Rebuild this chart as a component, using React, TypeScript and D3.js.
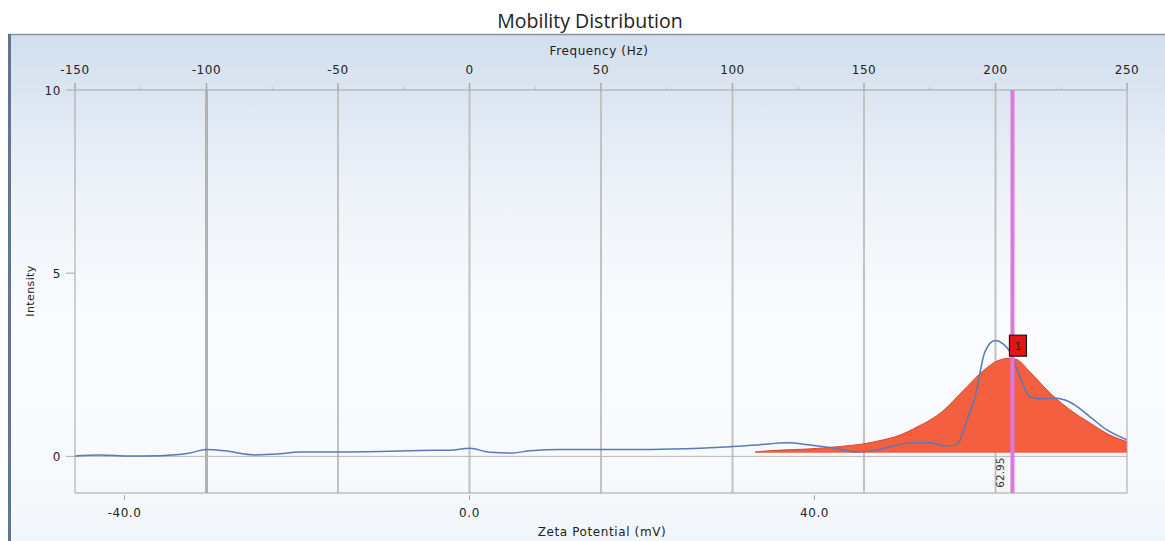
import React from 'react';
import * as d3 from 'd3';

const W = 1165;
const H = 541;

// Axis ticks
const freqTicks = [-150, -100, -50, 0, 50, 100, 150, 200, 250];
const freqMinorTicks = [-125, -75, -25, 25, 75, 125, 175, 225];
const zetaTicks = [-40, 0, 40];
const intensityTicks = [0, 5, 10];

// Domains
const zetaDomain = [-45.74, 76.23];
const freqDomain = [-150, 250];
const intensityDomain = [-1, 10];

// Measured mobility distribution (blue line): zeta potential (mV) vs intensity
const blueZeta = [
  -45.74, -42.84, -39.36, -35.88, -32.41, -30.55, -28.35, -24.87, -21.97, -19.65,
  -15.01, -10.38, -5.74, -2.26, 0.06, 2.38, 4.7, 7.01, 10.49, 15.13,
  20.93, 26.72, 30.2, 33.68, 36.81, 39.48, 42.14, 44.93, 46.78, 48.75,
  51.42, 53.39, 55.13, 56.29, 56.87, 57.68, 58.61, 59.77, 60.93, 61.86,
  62.67, 63.25, 63.83, 64.99, 66.38, 67.65, 69.04, 70.2, 71.94, 73.91, 76.23,
];
const blueIntensity = [
  0.01, 0.04, 0.01, 0.02, 0.09, 0.19, 0.15, 0.04, 0.07, 0.12,
  0.12, 0.13, 0.16, 0.17, 0.22, 0.11, 0.09, 0.15, 0.19, 0.19,
  0.19, 0.22, 0.26, 0.32, 0.37, 0.31, 0.23, 0.12, 0.15, 0.26,
  0.37, 0.37, 0.28, 0.3, 0.45, 0.99, 1.62, 2.86, 3.16, 3.07,
  2.85, 2.5, 2.17, 1.62, 1.57, 1.59, 1.54, 1.4, 1.08, 0.72, 0.45,
];

// Fitted peak (red area)
const redZeta = [
  33.1, 35.19, 39.13, 42.96, 45.62, 47.94, 49.91, 51.88, 53.39, 54.9,
  57.22, 59.54, 61.16, 62.67, 63.48, 64.99, 67.3, 69.62, 71.94, 74.26, 76.23,
];
const redIntensity = [
  0.12, 0.16, 0.2, 0.27, 0.34, 0.45, 0.58, 0.8, 0.99, 1.24,
  1.79, 2.33, 2.6, 2.68, 2.64, 2.3, 1.73, 1.27, 0.91, 0.58, 0.4,
];
const redBase = 0.1;

const peakZeta = 62.95;
const peakLabel = '1';
const peakText = '62.95';

const TICK_FONT = '"DejaVu Sans", Verdana, sans-serif';

export default function App() {
  const left = 75, right = 1127, top = 90, bottom = 493;
  const x = d3.scaleLinear().domain(zetaDomain).range([left, right]);
  const xf = d3.scaleLinear().domain(freqDomain).range([left, right]);
  const y = d3.scaleLinear().domain(intensityDomain).range([bottom, top]);

  const blueData = blueZeta.map((z, i) => [z, blueIntensity[i]] as [number, number]);
  const redData = redZeta.map((z, i) => [z, redIntensity[i]] as [number, number]);

  const line = d3.line<[number, number]>()
    .x(d => x(d[0])).y(d => y(d[1])).curve(d3.curveMonotoneX);
  const area = d3.area<[number, number]>()
    .x(d => x(d[0])).y0(() => y(redBase)).y1(d => y(d[1])).curve(d3.curveMonotoneX);
  const redTop = d3.line<[number, number]>()
    .x(d => x(d[0])).y(d => y(d[1])).curve(d3.curveMonotoneX);

  const px = x(peakZeta);
  const peakY = y(d3.max(redIntensity) as number);

  const tickText = { fontFamily: TICK_FONT, fontSize: 12, fill: '#222', letterSpacing: 0.6 } as const;

  return (
    <svg width={W} height={H} style={{ position: 'absolute', left: 0, top: 0 }}>
      <defs>
        <linearGradient id="panelBg" x1="0" y1="0" x2="0" y2="1">
          <stop offset="0" stopColor="#d2deee" />
          <stop offset="0.3" stopColor="#eef3f9" />
          <stop offset="0.55" stopColor="#fbfcfe" />
          <stop offset="0.85" stopColor="#f6f9fc" />
          <stop offset="1" stopColor="#edf4fa" />
        </linearGradient>
      </defs>
      <rect x={0} y={0} width={W} height={H} fill="#ffffff" />
      <text x={590} y={28} textAnchor="middle" fontFamily='"Open Sans", sans-serif' fontSize={19.5} fill="#222">
        Mobility Distribution
      </text>
      {/* panel */}
      <rect x={9} y={34} width={W} height={H} fill="url(#panelBg)" />
      <line x1={8} x2={W} y1={34.5} y2={34.5} stroke="#8995a2" strokeWidth={1.5} />
      <line x1={9.5} x2={9.5} y1={34} y2={H} stroke="#61768c" strokeWidth={3} />

      {/* gridlines at frequency ticks */}
      {freqTicks.filter(t => t > freqDomain[0] && t < freqDomain[1]).map(t => (
        <line key={'g' + t} x1={xf(t)} x2={xf(t)} y1={top} y2={bottom}
          stroke={t === -100 ? '#b2b2b2' : '#c2c2c2'} strokeWidth={t === -100 ? 3 : 2} />
      ))}
      {/* zero line */}
      <line x1={left} x2={right} y1={y(0)} y2={y(0)} stroke="#b4b4b4" strokeWidth={1} />

      {/* red fitted area */}
      <path d={area(redData) || ''} fill="#f4603f" />
      <path d={redTop(redData) || ''} fill="none" stroke="#cf4a2f" strokeWidth={1} />

      {/* blue measured line */}
      <path d={line(blueData) || ''} fill="none" stroke="#5a78b8" strokeWidth={1.5} />

      {/* plot frame */}
      <line x1={left} x2={right} y1={top} y2={top} stroke="#a3a3a3" strokeWidth={1} />
      <line x1={left} x2={right} y1={bottom} y2={bottom} stroke="#a3a3a3" strokeWidth={1} />
      <line x1={left} x2={left} y1={top} y2={bottom} stroke="#a3a3a3" strokeWidth={1} />
      <line x1={right} x2={right} y1={top} y2={bottom} stroke="#a3a3a3" strokeWidth={1} />

      {/* peak label box under axis */}
      <rect x={px - 19} y={y(0) + 1} width={15} height={bottom - y(0) - 2} fill="#f4f4f4" />
      <line x1={xf(200)} x2={xf(200)} y1={y(0)} y2={bottom} stroke="#b8b8b8" strokeWidth={1.5} />
      <text transform={`translate(${px - 8},${(y(0) + bottom) / 2 - 2}) rotate(-90)`}
        textAnchor="middle" fontFamily={TICK_FONT} fontSize={10.5} fill="#333">{peakText}</text>

      {/* magenta marker line */}
      <line x1={px} x2={px} y1={top} y2={bottom} stroke="#dd78e0" strokeWidth={4} />

      {/* peak number box */}
      <rect x={px - 3} y={peakY - 23} width={17} height={21} fill="#e41414" stroke="#1a1a1a" strokeWidth={1.2} />
      <text x={px + 5.5} y={peakY - 8.5} textAnchor="middle" fontFamily={TICK_FONT} fontSize={11} fill="#222">{peakLabel}</text>

      {/* top axis (frequency) */}
      {freqTicks.map(t => (
        <g key={'ft' + t}>
          <line x1={xf(t)} x2={xf(t)} y1={top} y2={top - 7} stroke="#a8a8a8" strokeWidth={1.5} />
          <text x={xf(t)} y={74} textAnchor="middle" {...tickText}>{t}</text>
        </g>
      ))}
      {freqMinorTicks.map(t => (
        <line key={'fm' + t} x1={xf(t)} x2={xf(t)} y1={top} y2={top - 3} stroke="#b8b8b8" strokeWidth={1} />
      ))}
      <text x={599} y={55} textAnchor="middle" {...tickText}>Frequency (Hz)</text>

      {/* bottom axis (zeta) */}
      {zetaTicks.map(t => (
        <g key={'zt' + t}>
          <line x1={x(t)} x2={x(t)} y1={bottom + 2} y2={bottom + 7} stroke="#a8a8a8" strokeWidth={1} />
          <text x={x(t)} y={517} textAnchor="middle" {...tickText}>{t.toFixed(1)}</text>
        </g>
      ))}
      <text x={602} y={536} textAnchor="middle" {...tickText}>Zeta Potential (mV)</text>

      {/* left axis (intensity) */}
      {intensityTicks.map(t => (
        <g key={'it' + t}>
          <line x1={left - 9} x2={left} y1={y(t)} y2={y(t)} stroke="#a8a8a8" strokeWidth={1} />
          <text x={61} y={y(t) + 4.5} textAnchor="end" {...tickText}>{t}</text>
        </g>
      ))}
      <text transform="translate(34,291) rotate(-90)" textAnchor="middle" fontFamily={TICK_FONT} fontSize={11} fill="#222" letterSpacing={0.4}>Intensity</text>
    </svg>
  );
}
